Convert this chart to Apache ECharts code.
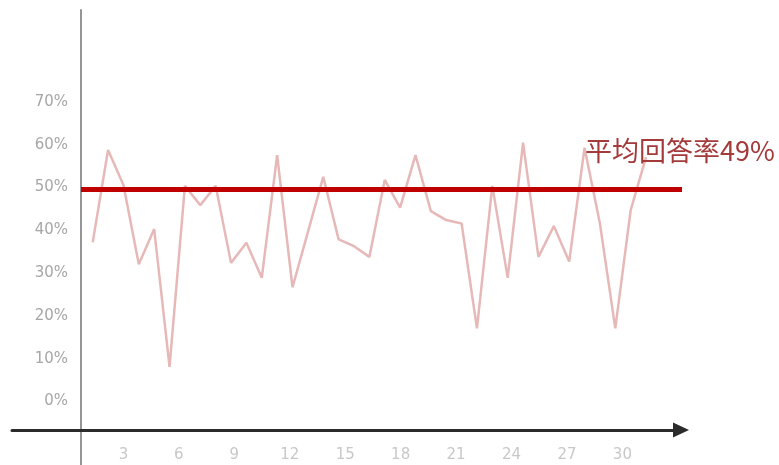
<!DOCTYPE html>
<html>
<head>
<meta charset="utf-8">
<script src="https://cdn.jsdelivr.net/npm/echarts@6/dist/echarts.min.js"></script>
<style>
html,body{margin:0;padding:0;background:#fff;}
#chart{width:779px;height:465px;}
</style>
</head>
<body>
<div id="chart"></div>
<script>
// ---- data ----
var days = [1,2,3,4,5,6,7,8,9,10,11,12,13,14,15,16,17,18,19,20,21,22,23,24,25,26,27,28,29,30,31,32,33,34,35,36,37];
var rates = [37.2,58.8,50.6,32.1,40.3,8.1,50.4,45.9,50.4,32.4,37.1,28.9,57.6,26.7,39.6,52.5,37.9,36.3,33.8,51.8,45.3,57.6,44.5,42.4,41.6,17.1,50.4,28.9,60.5,33.8,41.0,32.7,59.3,41.6,17.1,44.7,57.1];
var averageRate = 49.5;
var averageLabel = '平均回答率49%';
var yTicks = [0,10,20,30,40,50,60,70];
var xTickLabels = [3,6,9,12,15,18,21,24,27,30];

var points = days.map(function(d,i){ return [d, rates[i]]; });

var chart = echarts.init(document.getElementById('chart'));
chart.setOption({
  animation: false,
  backgroundColor: '#ffffff',
  title: {
    text: averageLabel,
    left: 580, top: 132, padding: 5,
    textStyle: {fontFamily: 'Noto Sans CJK SC', fontSize: 27, fontWeight: 'normal', color: '#a33b3b', lineHeight: 28}
  },
  grid: [
    {left: 81, right: 97, top: 102, bottom: 63.5},   // data
    {left: 68, right: 156.6, top: 400, bottom: 25},  // x tick labels
    {left: 12, right: 98, top: 400, bottom: 35},     // x axis line with arrow
    {left: 81, right: 97, top: 10, bottom: 0}        // y axis line
  ],
  xAxis: [
    {gridIndex: 0, type: 'value', min: 0.239, max: 39.34,
     axisLine: {show: false}, axisTick: {show: false}, axisLabel: {show: false}, splitLine: {show: false}},
    {gridIndex: 1, type: 'value', min: 0, max: 30, interval: 3,
     axisLine: {show: false}, axisTick: {show: false}, splitLine: {show: false},
     axisLabel: {show: true, margin: 8, fontFamily: 'DejaVu Sans', fontSize: 15, color: '#c8c8c8',
       formatter: function(v){ return xTickLabels.indexOf(v) >= 0 ? String(v) : ''; }}},
    {gridIndex: 2, type: 'value', min: 0, max: 1,
     axisLine: {show: true, onZero: false, symbol: ['none','triangle'], symbolSize: [15,16],
       lineStyle: {color: '#2b2b2b', width: 3}},
     axisTick: {show: false}, axisLabel: {show: false}, splitLine: {show: false}},
    {gridIndex: 3, type: 'value', min: 0, max: 1, show: false}
  ],
  yAxis: [
    {gridIndex: 0, type: 'value', min: 0, max: 70, interval: 10,
     axisLine: {show: false}, axisTick: {show: false}, splitLine: {show: false},
     axisLabel: {margin: 13, fontFamily: 'DejaVu Sans', fontSize: 15, color: '#a6a6a6',
       formatter: function(v){ return yTicks.indexOf(v) >= 0 ? v + '%' : ''; }}},
    {gridIndex: 1, type: 'value', show: false},
    {gridIndex: 2, type: 'value', show: false},
    {gridIndex: 3, type: 'value', min: 0, max: 1,
     axisLine: {show: true, onZero: false, lineStyle: {color: '#959595', width: 2}},
     axisTick: {show: false}, axisLabel: {show: false}, splitLine: {show: false}}
  ],
  series: [
    {
      type: 'line', xAxisIndex: 0, yAxisIndex: 0,
      data: points, showSymbol: false, symbol: 'none',
      lineStyle: {color: '#e6b9b8', width: 2.5},
      z: 2,
      markLine: {
        silent: true, symbol: ['none','none'], z: 5,
        label: {show: false},
        lineStyle: {color: '#c00000', width: 5, type: 'solid'},
        data: [{yAxis: averageRate}]
      }
    }
  ]
});
</script>
</body>
</html>
